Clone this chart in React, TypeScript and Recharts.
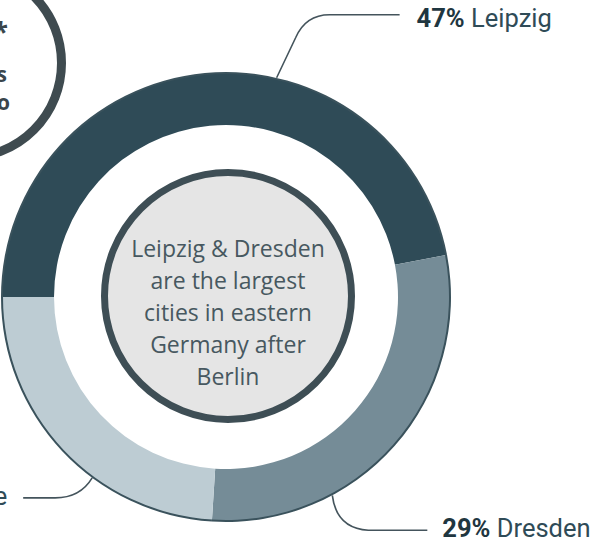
import React from 'react';
import { PieChart, Pie, Cell } from 'recharts';

// ---- data ----
const CATEGORIES = ['Leipzig', 'Dresden', 'Halle'];
const SHARES = [47, 29, 24];
const CENTER_LINES = ['Leipzig & Dresden', 'are the largest', 'cities in eastern', 'Germany after', 'Berlin'];
const NOTE_FRAGMENTS = ['*', 's', 'o'];

// ---- styling / layout ----
const COLORS = ['#2f4b57', '#758c97', '#bdccd3'];
const W = 597;
const H = 541;
const CX = 226;
const CY = 297;

// leader layout, relative to anchor point on the outer edge
const LABEL_LAYOUT = [
  { angle: 77, p1: [19, -40], c: [29, -63], p2: [53, -63], endX: 123, text: [140, -51], anchor: 'start' },
  { angle: -61.8, p1: [0, 0], c: [4, 33], p2: [36, 35], endX: 95, text: [110, 42], anchor: 'start' },
  { angle: -126.5, p1: [0, 0], c: [-12, 20], p2: [-37, 20], endX: -69, text: [-85, 27], anchor: 'end' },
];

const data = CATEGORIES.map((name, i) => ({ name, value: SHARES[i] }));

const renderLabel = (props: any) => {
  const { cx, cy, outerRadius, index, value, name } = props;
  const L = LABEL_LAYOUT[index];
  const rad = (L.angle * Math.PI) / 180;
  const sx = cx + (outerRadius + 1) * Math.cos(rad);
  const sy = cy - (outerRadius + 1) * Math.sin(rad);
  const d = `M${sx},${sy} L${sx + L.p1[0]},${sy + L.p1[1]} Q${sx + L.c[0]},${sy + L.c[1]} ${sx + L.p2[0]},${sy + L.p2[1]} L${sx + L.endX},${sy + L.p2[1]}`;
  return (
    <g key={`lbl-${index}`}>
      <path d={d} fill="none" stroke="#44545c" strokeWidth={1.6} />
      <text
        x={sx + L.text[0]}
        y={sy + L.text[1]}
        textAnchor={L.anchor as any}
        fontFamily="Roboto, 'Noto Sans', sans-serif"
        fontSize={25.5}
        fill="#2f4b57"
      >
        <tspan fontWeight={700} fill="#1f3640">{`${value}%`}</tspan>
        <tspan fontWeight={400}>{` ${name}`}</tspan>
      </text>
    </g>
  );
};

export default function App() {
  return (
    <div style={{ position: 'absolute', left: 0, top: 0, width: W, height: H, background: '#ffffff' }}>
      <PieChart width={W} height={H} margin={{ top: 0, right: 0, bottom: 0, left: 0 }}>
        {/* top-left note circle */}
        <g>
          <circle cx={-33} cy={63} r={94.5} fill="#ffffff" stroke="#3f4b50" strokeWidth={9} />
          {NOTE_FRAGMENTS.map((t, i) => (
            <text
              key={t + i}
              x={[8, 7, 10][i]}
              y={[42, 82, 110][i]}
              textAnchor="end"
              fontFamily="'Open Sans', sans-serif"
              fontWeight={700}
              fontSize={[26, 21, 21][i]}
              fill="#3a464c"
            >
              {t}
            </text>
          ))}
        </g>
        {/* center circle */}
        <g>
          <circle cx={228} cy={296} r={123.5} fill="#e5e5e5" stroke="#3e4e55" strokeWidth={7} />
          <text textAnchor="middle" fontFamily="'Open Sans', sans-serif" fontSize={23} fill="#475860">
            {CENTER_LINES.map((line, i) => (
              <tspan key={i} x={228} y={257 + i * 32}>
                {line}
              </tspan>
            ))}
          </text>
        </g>
        <Pie
          data={data}
          dataKey="value"
          nameKey="name"
          cx={CX}
          cy={CY}
          innerRadius={172}
          outerRadius={224}
          startAngle={180}
          endAngle={-180}
          paddingAngle={0}
          stroke="none"
          isAnimationActive={false}
          label={renderLabel}
          labelLine={false}
        >
          {data.map((d, i) => (
            <Cell key={d.name} fill={COLORS[i]} />
          ))}
        </Pie>
        <Pie
          data={data}
          dataKey="value"
          cx={CX}
          cy={CY}
          innerRadius={223}
          outerRadius={225}
          startAngle={180}
          endAngle={-180}
          stroke="none"
          fill="#3a525c"
          isAnimationActive={false}
        />
      </PieChart>
    </div>
  );
}
